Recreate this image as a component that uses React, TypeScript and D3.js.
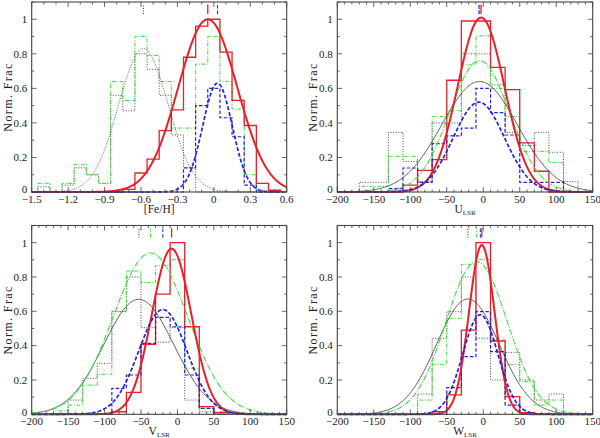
import * as d3 from "d3";

// [Fe/H] histograms, bins of 0.1 dex
const feEdges = [-1.45, -1.35, -1.25, -1.15, -1.05, -0.95, -0.85, -0.75, -0.65, -0.55, -0.45, -0.35, -0.25, -0.15, -0.05, 0.05, 0.15, 0.25, 0.35, 0.45, 0.55];
const feBlack = [0.03, 0, 0.04, 0.14, 0.1, 0.05, 0.56, 0.47, 0.8, 0.71, 0.56, 0.33, 0.14, 0, 0, 0, 0, 0, 0, 0];
const feGreen = [0.05, 0, 0.05, 0.16, 0.1, 0.05, 0.64, 0.53, 0.9, 0.79, 0.64, 0.37, 0.37, 0.74, 0.9, 0.64, 0.48, 0.1, 0, 0];
const feRed = [0, 0, 0, 0, 0, 0, 0, 0.015, 0.11, 0.19, 0.355, 0.475, 0.78, 0.96, 1.0, 0.81, 0.53, 0.385, 0.05, 0.01];
const feBlue = [0, 0, 0, 0, 0, 0, 0, 0, 0, 0, 0, 0, 0.14, 0.5, 0.6, 0.43, 0.32, 0.04, 0, 0];

// U_LSR histograms, bins of 20 km/s
const uEdges = [-170, -150, -130, -110, -90, -70, -50, -30, -10, 10, 30, 50, 70, 90, 110, 130];
const uBlack = [0.056, 0.056, 0.345, 0.177, 0.06, 0.4, 0.4, 0.8, 0.8, 0.62, 0.345, 0.27, 0.345, 0.23, 0.06];
const uGreen = [0.033, 0.033, 0.206, 0.206, 0.056, 0.437, 0.47, 0.736, 0.904, 0.6, 0.437, 0.235, 0.235, 0.17, 0];
const uRed = [0, 0, 0, 0.04, 0.125, 0.187, 0.647, 0.99, 0.99, 0.722, 0.593, 0.284, 0.12, 0, 0];
const uBlue = [0, 0, 0.02, 0.139, 0.056, 0.28, 0.325, 0.37, 0.6, 0.46, 0.33, 0.056, 0.056, 0.056, 0];

// V_LSR histograms
const vEdges = [-170, -150, -130, -110, -90, -70, -50, -30, -10, 10, 30, 50, 70];
const vBlack = [0, 0.083, 0.21, 0.297, 0.598, 0.8, 0.505, 0.42, 0.505, 0.083, 0.015, 0];
const vGreen = [0.02, 0.054, 0.17, 0.233, 0.6, 0.835, 0.767, 0.866, 0.9, 0.268, 0.035, 0.015];
const vRed = [0, 0, 0, 0, 0.015, 0.128, 0.408, 0.7, 1.0, 0.51, 0.045, 0.01];
const vBlue = [0, 0, 0, 0, 0.151, 0.229, 0.413, 0.565, 0.51, 0.229, 0.035, 0];

// W_LSR histograms
const wEdges = [-90, -70, -50, -30, -10, 10, 30, 50, 70, 90, 110];
const wBlack = [0.118, 0.443, 0.598, 0.8, 0.443, 0.2, 0.361, 0.2, 0.083, 0.118];
const wGreen = [0.083, 0.291, 0.559, 0.874, 0.903, 0.433, 0.291, 0.19, 0.054, 0.083];
const wRed = [0, 0.015, 0.113, 0.49, 1.0, 0.427, 0.103, 0.01, 0, 0];
const wBlue = [0, 0, 0.155, 0.336, 0.598, 0.365, 0.054, 0, 0, 0];

// gaussian fits: [mean, peak, sigma]
const feFits = { black: [-0.58, 0.83, 0.205], red: [-0.05, 1.0, 0.243], blue: [0.03, 0.63, 0.122] };
const uFits = { black: [-5, 0.64, 52], green: [-5, 0.76, 41], red: [-3, 1.01, 32], blue: [-6, 0.52, 35] };
const vFits = { black: [-53, 0.67, 48], green: [-37, 0.94, 51], red: [-8, 0.965, 27], blue: [-20, 0.61, 33] };
const wFits = { black: [-21, 0.672, 43], green: [-9, 0.89, 42], red: [-2, 0.986, 17.5], blue: [-4, 0.58, 24] };

const feTicks = [-1.5, -1.2, -0.9, -0.6, -0.3, 0, 0.3, 0.6];
const velTicks = [-200, -150, -100, -50, 0, 50, 100, 150];
const fracTicks = [0, 0.2, 0.4, 0.6, 0.8, 1];

const FONT = "'Liberation Serif', serif";

const styles: Record<string, any> = {
  black: { color: "#333", hw: 0.9, hd: "1,1.6", fw: 0.8, fd: null },
  green: { color: "#3fdc3f", hw: 1, hd: "4,1.5,1,1.5", fw: 1.1, fd: "6,1.5,1,1.5" },
  red: { color: "#e8202a", hw: 1.3, hd: null, fw: 2, fd: null },
  blue: { color: "#2424d4", hw: 1.2, hd: "3.5,2", fw: 1.7, fd: "4,2" },
};

const fmt = (v: number) => String(v).replace("-", "\u2212");

function Panel(props: any) {
  const { left, right, top, bottom, domain, xTicks, minorStep, label, sub, edges, hists, fits, dottedFit } = props;
  const x = d3.scaleLinear().domain(domain).range([left, right]);
  const y = d3.scaleLinear().domain([0, 1.1]).range([bottom, top]);
  const line = d3.line<[number, number]>().x((d) => x(d[0])).y((d) => y(d[1]));

  const histPts = (vals: number[]) => {
    const pts: [number, number][] = [[edges[0], 0]];
    vals.forEach((v, i) => {
      pts.push([edges[i], v]);
      pts.push([edges[i + 1], v]);
    });
    pts.push([edges[edges.length - 1], 0]);
    return pts;
  };
  const samples = d3.range(domain[0], domain[1] + 1e-9, (domain[1] - domain[0]) / 300);
  const fitPts = (p: number[]) =>
    samples.map((s) => [s, p[1] * Math.exp(-((s - p[0]) ** 2) / (2 * p[2] * p[2]))] as [number, number]);

  const minor = d3.range(domain[0], domain[1] + 1e-9, minorStep);
  const yMinor = d3.range(0, 1.1 + 1e-9, 0.1);
  const order = ["black", "green", "red", "blue"];
  const midX = (left + right) / 2;
  const midY = (top + bottom) / 2;

  return (
    <g>
      {order.map((k) =>
        hists[k] ? (
          <path key={"h" + k} d={line(histPts(hists[k])) || ""} fill="none" stroke={styles[k].color}
            strokeWidth={styles[k].hw} strokeDasharray={styles[k].hd || undefined} />
        ) : null
      )}
      {order.map((k) =>
        fits[k] ? (
          <path key={"f" + k} d={line(fitPts(fits[k])) || ""} fill="none" stroke={styles[k].color}
            strokeWidth={styles[k].fw}
            strokeDasharray={(k === "black" && dottedFit ? "1,1.5" : styles[k].fd) || undefined} />
        ) : null
      )}
      {order.map((k) =>
        fits[k] ? (
          <line key={"m" + k} x1={x(fits[k][0])} x2={x(fits[k][0])} y1={y(1.03)} y2={y(1.085)}
            stroke={styles[k].color} strokeWidth={k === "red" ? 1.3 : 1}
            strokeDasharray={(k === "black" ? "1,1.5" : styles[k].hd) || undefined} />
        ) : null
      )}
      {/* frame */}
      <rect x={left} y={top} width={right - left} height={bottom - top} fill="none" stroke="#444" strokeWidth={1.1} />
      {minor.map((t, i) => {
        const major = xTicks.some((m: number) => Math.abs(m - t) < 1e-6);
        const len = major ? 5 : 2.5;
        return (
          <g key={"xt" + i} stroke="#444" strokeWidth={0.8}>
            <line x1={x(t)} x2={x(t)} y1={bottom} y2={bottom - len} />
            <line x1={x(t)} x2={x(t)} y1={top} y2={top + len} />
          </g>
        );
      })}
      {yMinor.map((t, i) => {
        const major = i % 2 === 0;
        const len = major ? 5 : 2.5;
        return (
          <g key={"yt" + i} stroke="#444" strokeWidth={0.8}>
            <line x1={left} x2={left + len} y1={y(t)} y2={y(t)} />
            <line x1={right} x2={right - len} y1={y(t)} y2={y(t)} />
          </g>
        );
      })}
      {xTicks.map((t: number) => (
        <text key={"xl" + t} x={x(t)} y={bottom + 11} textAnchor="middle" fontFamily={FONT} fontSize={11} fill="#222">
          {fmt(t)}
        </text>
      ))}
      {fracTicks.map((t) => (
        <text key={"yl" + t} x={left - 4.5} y={y(t) - (t === 0 ? 2.5 : 0)} dy="0.35em" textAnchor="end" fontFamily={FONT} fontSize={11} fill="#222">
          {fmt(t)}
        </text>
      ))}
      <text x={midX} y={bottom + 20.5} textAnchor="middle" fontFamily={FONT} fontSize={11.5} fill="#222">
        {label}
        {sub ? (
          <tspan fontSize={7} dy={2.5}>{sub}</tspan>
        ) : null}
      </text>
      <text transform={`translate(${left - 20},${midY}) rotate(-90)`} textAnchor="middle" fontFamily={FONT}
        fontSize={12} letterSpacing={1.4} fill="#222">
        Norm. Frac
      </text>
    </g>
  );
}

export default function App() {
  const L = [31.7, 286.7];
  const R = [337.3, 592.7];
  const T = [2, 192];
  const B = [225.5, 414.3];
  return (
    <svg width={600} height={438} style={{ position: "absolute", left: 0, top: 0, background: "#fff" }}>
      <rect width={600} height={438} fill="#fff" />
      <Panel left={L[0]} right={L[1]} top={T[0]} bottom={T[1]} domain={[-1.5, 0.6]} xTicks={feTicks} minorStep={0.1}
        label="[Fe/H]" edges={feEdges} dottedFit
        hists={{ black: feBlack, green: feGreen, red: feRed, blue: feBlue }} fits={feFits} />
      <Panel left={R[0]} right={R[1]} top={T[0]} bottom={T[1]} domain={[-200, 150]} xTicks={velTicks} minorStep={10}
        label="U" sub="LSR" edges={uEdges}
        hists={{ black: uBlack, green: uGreen, red: uRed, blue: uBlue }} fits={uFits} />
      <Panel left={L[0]} right={L[1]} top={B[0]} bottom={B[1]} domain={[-200, 150]} xTicks={velTicks} minorStep={10}
        label="V" sub="LSR" edges={vEdges}
        hists={{ black: vBlack, green: vGreen, red: vRed, blue: vBlue }} fits={vFits} />
      <Panel left={R[0]} right={R[1]} top={B[0]} bottom={B[1]} domain={[-200, 150]} xTicks={velTicks} minorStep={10}
        label="W" sub="LSR" edges={wEdges}
        hists={{ black: wBlack, green: wGreen, red: wRed, blue: wBlue }} fits={wFits} />
    </svg>
  );
}
